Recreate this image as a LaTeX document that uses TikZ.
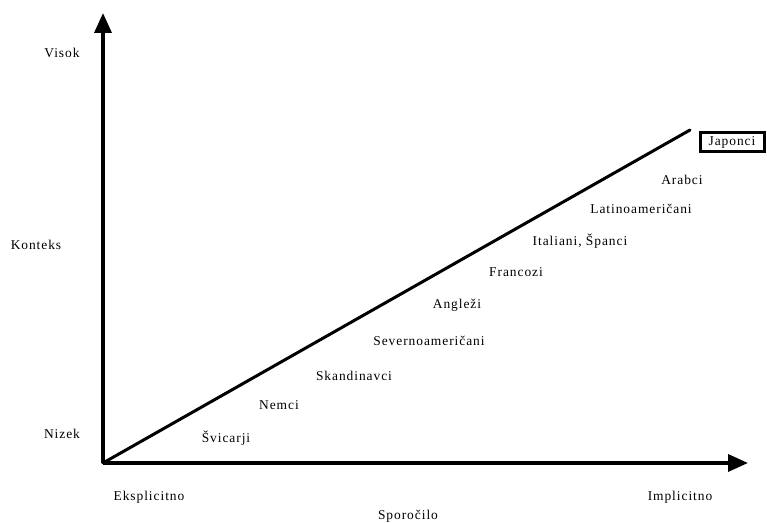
\documentclass[tikz,border=0pt]{standalone}
\usepackage{fontspec}
\setmainfont{Liberation Serif}[LetterSpace=7]
\usetikzlibrary{arrows.meta}
\begin{document}
\begin{tikzpicture}[x=1bp,y=-1bp,
  lbl/.style={font=\fontsize{13.5}{15}\selectfont, inner sep=0pt},
  axis/.style={line width=3.5bp, -{Triangle[length=20bp,width=17bp]}},
  diag/.style={line width=3bp}]
\useasboundingbox (0,0) rectangle (767,523);
\coordinate (O) at (103,463);
\coordinate (ytip) at (103,13);
\coordinate (xtip) at (748,463);
\coordinate (dend) at (690,130);
\draw[axis] (O) -- (ytip);
\draw[axis] (O) -- (xtip);
\draw[diag, line cap=round] (O) -- (dend);
\node[lbl] (visok) at (62,53) {Visok};
\node[lbl] (konteks) at (36,245) {Konteks};
\node[lbl] (nizek) at (62,434) {Nizek};
\node[lbl] (eks) at (149,497) {Eksplicitno};
\node[lbl] (imp) at (680,497) {Implicitno};
\node[lbl] (spo) at (408,516) {Sporočilo};
\node[lbl] (svi) at (226,438) {Švicarji};
\node[lbl] (nem) at (279,405) {Nemci};
\node[lbl] (ska) at (354,376) {Skandinavci};
\node[lbl] (sev) at (429,341) {Severnoameričani};
\node[lbl] (ang) at (457,305) {Angleži};
\node[lbl] (fra) at (516,272) {Francozi};
\node[lbl] (ita) at (580,241) {Italiani, Španci};
\node[lbl] (lat) at (641,209) {Latinoameričani};
\node[lbl] (ara) at (682,180) {Arabci};
\node[lbl, draw, line width=3bp, minimum width=64bp, minimum height=19bp] (jap) at (732,142) {Japonci};
\end{tikzpicture}
\end{document}
